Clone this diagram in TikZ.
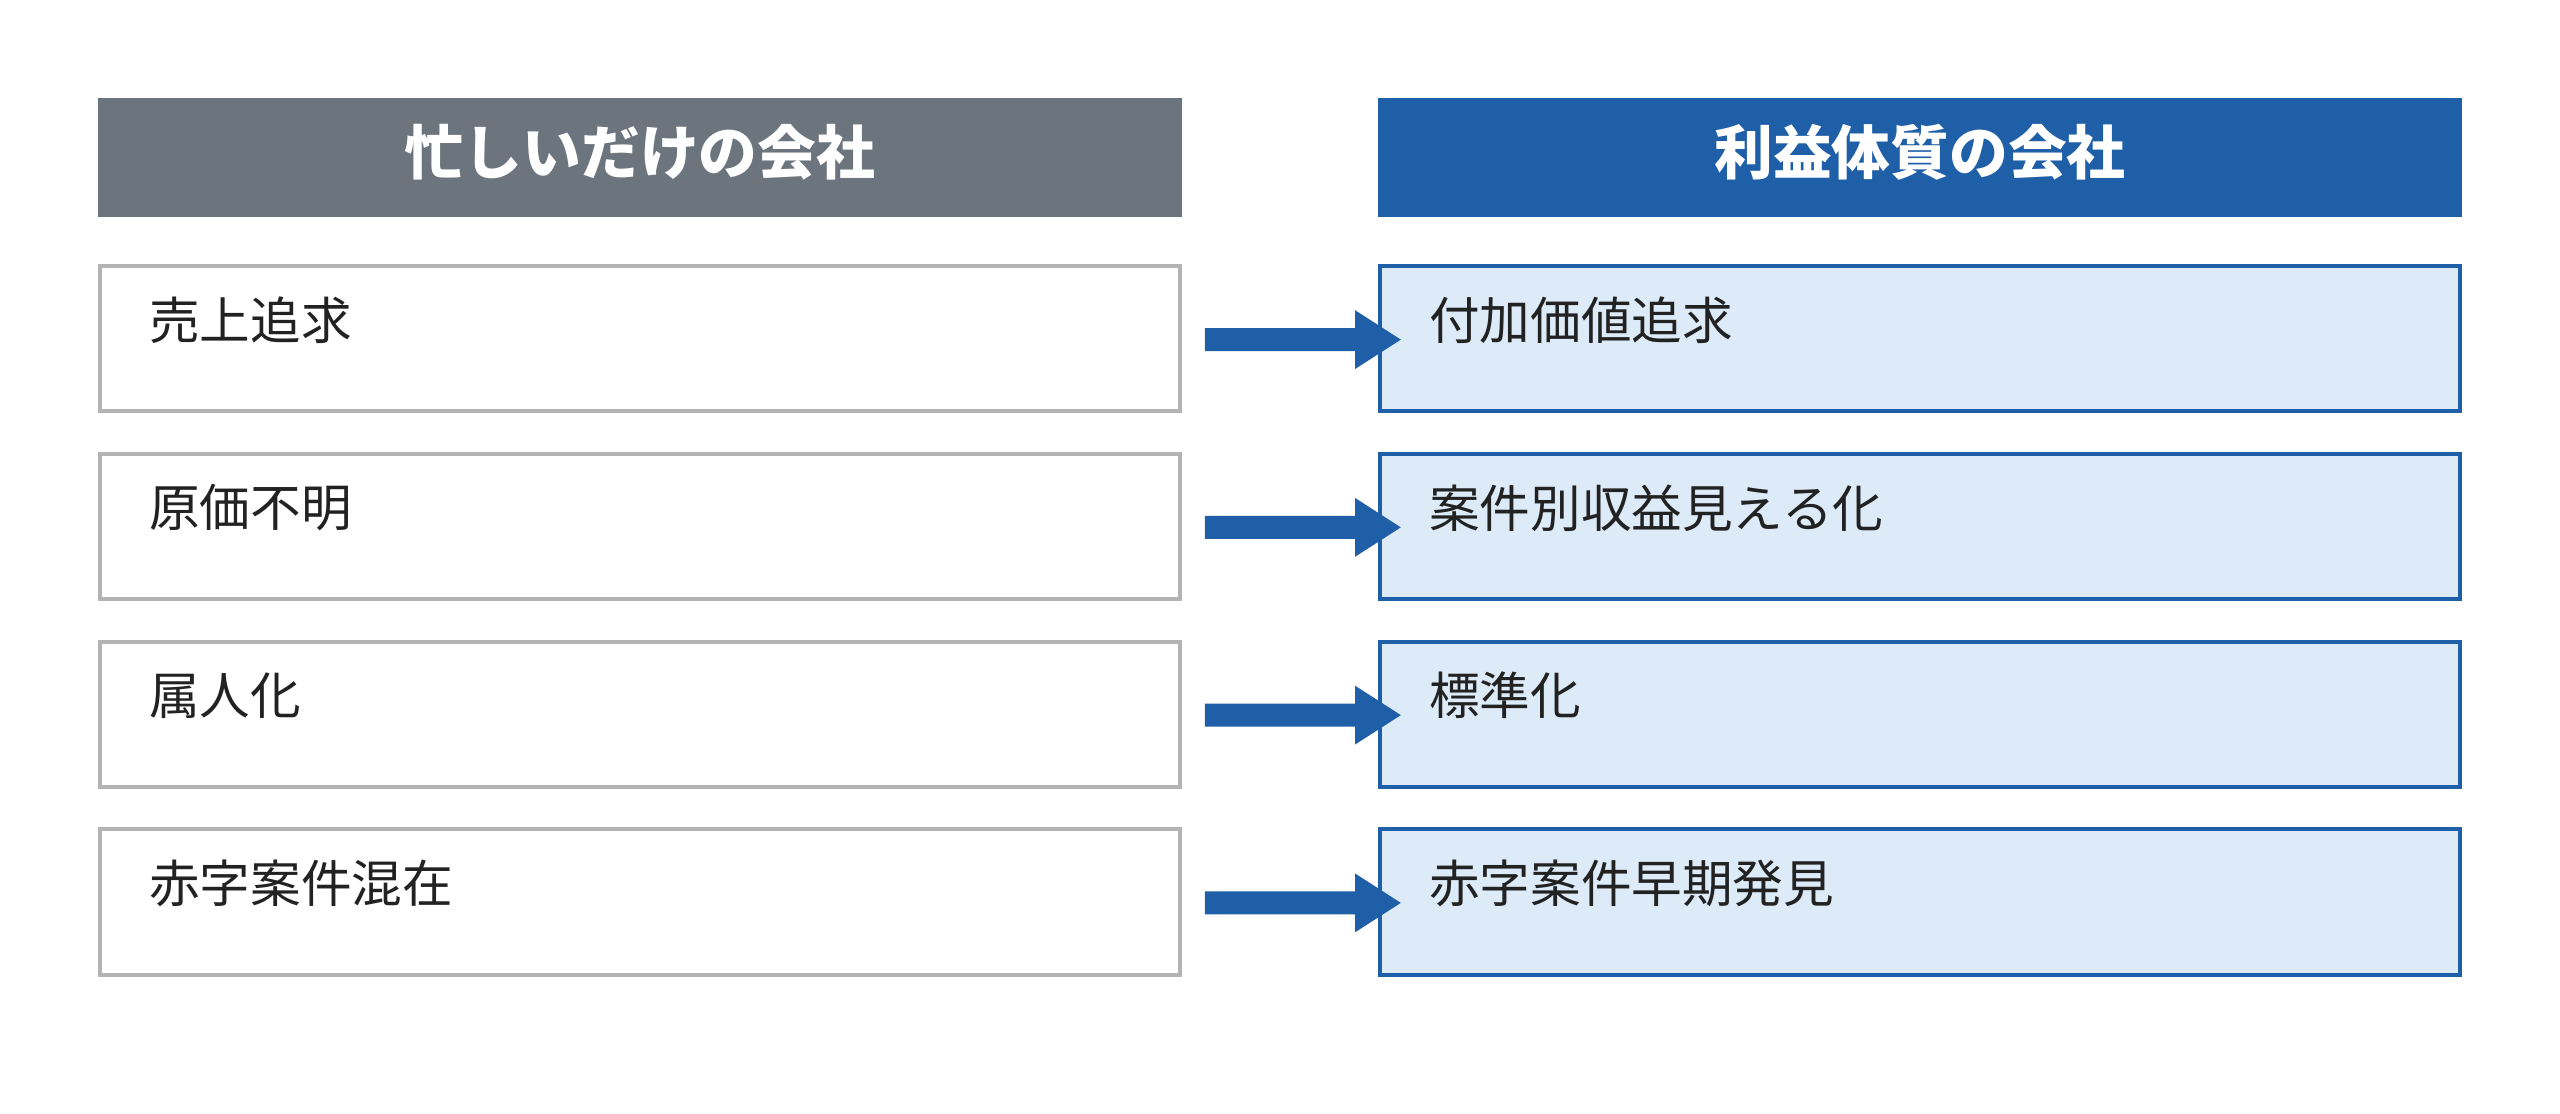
\documentclass[tikz,border=0pt]{standalone}
\usepackage{fontspec}
\setmainfont{Noto Sans CJK JP}
\definecolor{hgray}{HTML}{6C757D}
\definecolor{hblue}{HTML}{1F5FA8}
\definecolor{lblue}{HTML}{DDEAF8}
\definecolor{bgray}{HTML}{B3B3B3}
\definecolor{txt}{HTML}{222222}
\begin{document}
\begin{tikzpicture}[x=0.5pt,y=-0.5pt,
 hdr/.style={fill=#1,draw=none},
 lbox/.style={draw=bgray,line width=1.2pt,fill=white},
 rbox/.style={draw=hblue,line width=1.2pt,fill=lblue},
 htxt/.style={text=white,font=\fontsize{18}{20}\selectfont\bfseries,inner sep=0},
 btxt/.style={text=txt,font=\fontsize{15.5}{18}\selectfont,anchor=west,inner sep=0},
 arr/.style={fill=hblue,draw=none}]
\useasboundingbox (0,0) rectangle (1568,682);
\fill[hdr=hgray] (60,60) rectangle (724,133);
\fill[hdr=hblue] (844,60) rectangle (1508,133);
\node[htxt] (h1) at (392,93) {忙しいだけの会社};
\node[htxt] (h2) at (1176,93) {利益体質の会社};
\foreach \i/\a/\b [count=\k from 0] in {1/売上追求/付加価値追求,2/原価不明/案件別収益見える化,3/属人化/標準化,4/赤字案件混在/赤字案件早期発見}{
 \pgfmathsetmacro{\t}{163+115*\k}
 \pgfmathsetmacro{\m}{\t+45}
 \draw[lbox] (61,\t) rectangle (723,\t+89);
 \draw[rbox] (845,\t) rectangle (1507,\t+89);
 \node[btxt] (l\i) at (91,\t+33) {\a};
 \node[btxt] (r\i) at (875,\t+33) {\b};
 \fill[arr] (738,\m-7) -- (830,\m-7) -- (830,\m-18) -- (858,\m) -- (830,\m+18) -- (830,\m+7) -- (738,\m+7) -- cycle;
}
\end{tikzpicture}
\end{document}
